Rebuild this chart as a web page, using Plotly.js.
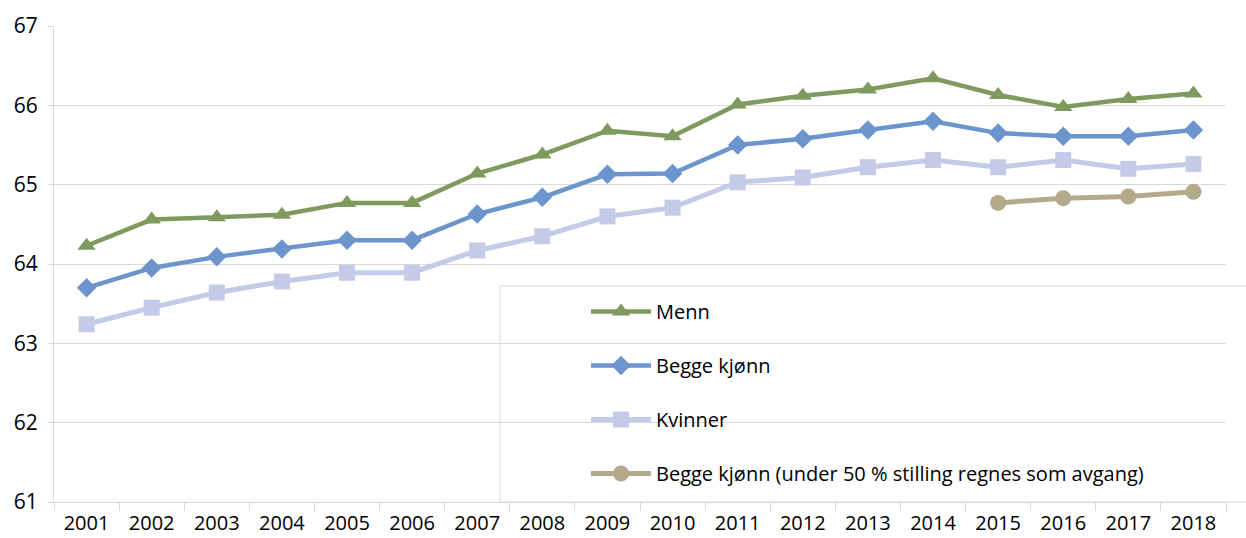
<!DOCTYPE html>
<html>
<head>
<meta charset="utf-8">
<script src="https://cdn.plot.ly/plotly-3.0.1.min.js"></script>
<style>html,body{margin:0;padding:0;background:#fff;}#chart{width:1246px;height:538px;}</style>
</head>
<body>
<div id="chart"></div>
<script>
const years = ["2001","2002","2003","2004","2005","2006","2007","2008","2009","2010","2011","2012","2013","2014","2015","2016","2017","2018"];
const menn = [64.23, 64.56, 64.59, 64.62, 64.77, 64.77, 65.14, 65.38, 65.68, 65.61, 66.01, 66.12, 66.20, 66.34, 66.13, 65.98, 66.08, 66.15];
const beggeKjonn = [63.70, 63.95, 64.09, 64.19, 64.30, 64.30, 64.63, 64.84, 65.13, 65.14, 65.50, 65.58, 65.69, 65.80, 65.65, 65.61, 65.61, 65.69];
const kvinner = [63.24, 63.45, 63.64, 63.78, 63.89, 63.89, 64.17, 64.35, 64.60, 64.71, 65.03, 65.09, 65.22, 65.31, 65.22, 65.31, 65.20, 65.26];
const altYears = ["2015","2016","2017","2018"];
const beggeAlt = [64.77, 64.83, 64.85, 64.91];
const seriesNames = ["Menn", "Begge kjønn", "Kvinner", "Begge kjønn (under 50 % stilling regnes som avgang)"];

const FONT = "Open Sans, sans-serif";
const traces = [
  {x: years, y: menn, name: seriesNames[0], type: "scatter", mode: "lines+markers", legendgroup: "a",
   line: {color: "#7f9a5f", width: 4.5}, marker: {symbol: "triangle-up", size: 16, color: "#7f9a5f"}},
  {x: years, y: beggeKjonn, name: seriesNames[1], type: "scatter", mode: "lines+markers", legendgroup: "b",
   line: {color: "#6b95cc", width: 4.5}, marker: {symbol: "diamond", size: 15, color: "#6b95cc"}},
  {x: years, y: kvinner, name: seriesNames[2], type: "scatter", mode: "lines+markers", legendgroup: "c",
   line: {color: "#c3cbe9", width: 5}, marker: {symbol: "square", size: 16, color: "#c3cbe9"}},
  {x: altYears, y: beggeAlt, name: seriesNames[3], type: "scatter", mode: "lines+markers", legendgroup: "d",
   line: {color: "#b3a98b", width: 5}, marker: {symbol: "circle", size: 16, color: "#b3a98b"}}
];

const layout = {
  width: 1246, height: 538,
  margin: {l: 54, r: 20, t: 26, b: 36},
  paper_bgcolor: "#fff", plot_bgcolor: "#fff",
  font: {family: FONT, size: 20, color: "#000"},
  showlegend: true,
  xaxis: {type: "category", categoryarray: years, range: [-0.5, 17.5],
    showline: true, linecolor: "#d9d9d9", linewidth: 1, showgrid: false,
    ticks: "outside", tickson: "boundaries", ticklen: 8, tickcolor: "#d9d9d9", ticklabelstandoff: 3,
    tickfont: {family: FONT, size: 20, color: "#000"}},
  yaxis: {range: [61, 67], dtick: 1, tick0: 61, showgrid: true, gridcolor: "#d9d9d9", gridwidth: 1,
    showline: true, linecolor: "#d9d9d9", zeroline: false,
    ticks: "outside", ticklen: 5, tickcolor: "#d9d9d9", ticklabelstandoff: 6,
    tickfont: {family: FONT, size: 21, color: "#000"}},
  legend: {x: (586-54)/1172, xanchor: "left", y: (502-292)/476, yanchor: "top",
    bgcolor: "rgba(0,0,0,0)", borderwidth: 0, itemwidth: 60, tracegroupgap: 25,
    font: {family: FONT, size: 20, color: "#000"}},
  shapes: [{type: "rect", xref: "paper", yref: "paper", layer: "between",
    x0: (500-54)/1172, x1: (1256-54)/1172, y0: 0, y1: (502-286)/476,
    fillcolor: "#fff", line: {color: "#d9d9d9", width: 1}}]
};

Plotly.newPlot("chart", traces, layout, {displayModeBar: false, staticPlot: true});
</script>
</body>
</html>
